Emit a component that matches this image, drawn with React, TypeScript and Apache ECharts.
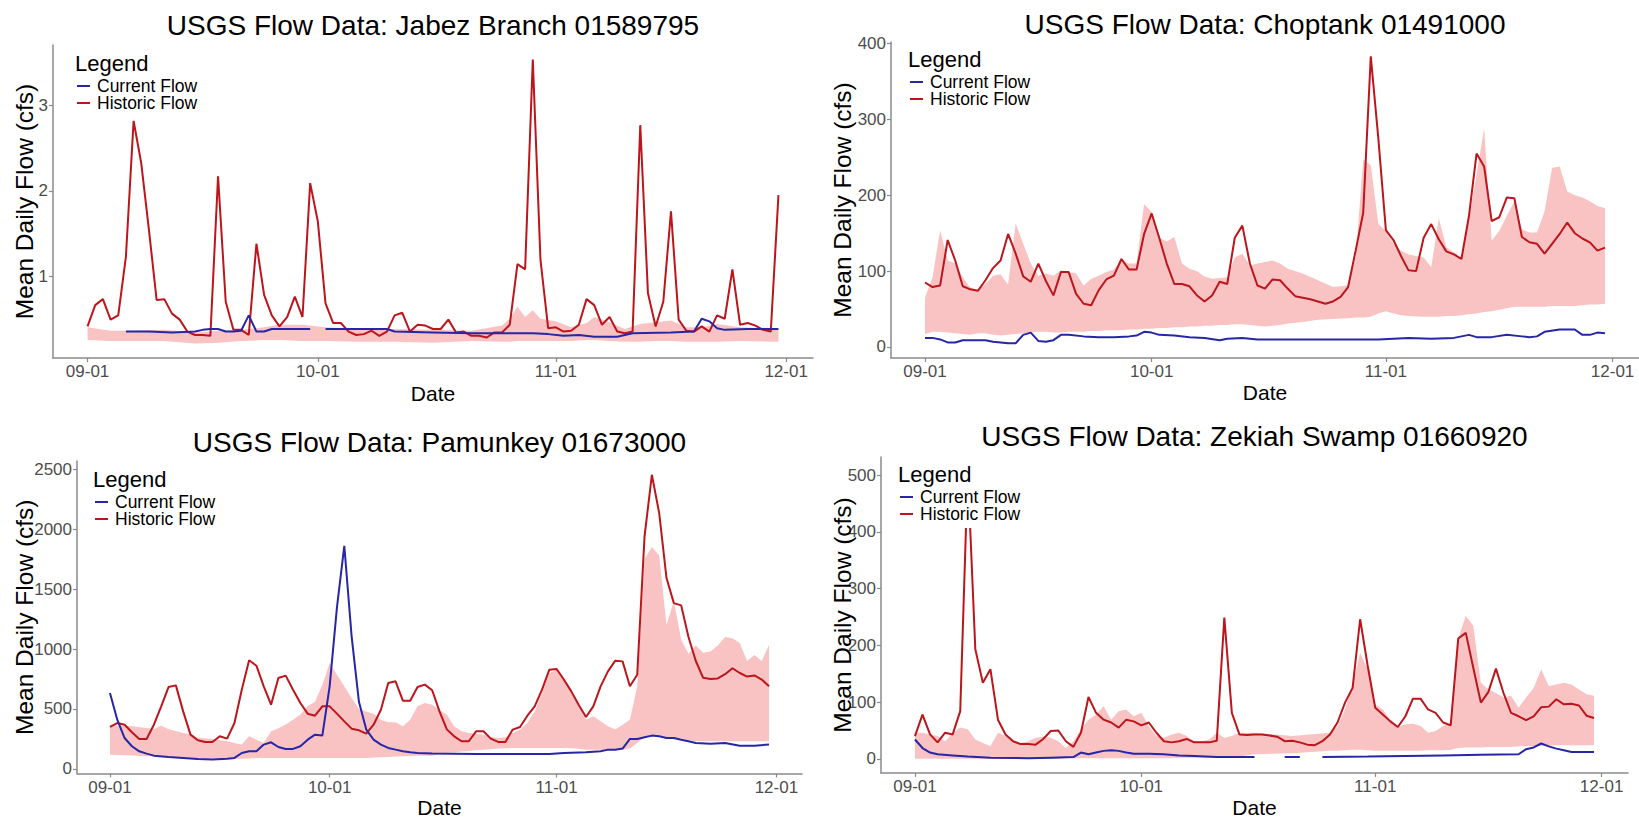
import React, { useEffect, useRef } from "react";
import * as echarts from "echarts";

// ---------- shared tick definitions ----------
const xTickDays = [0, 30, 61, 91];
const xTickLabels = ["09-01", "10-01", "11-01", "12-01"];

// ---------- titles ----------
const panelTitles = [
  "USGS Flow Data: Jabez Branch 01589795",
  "USGS Flow Data: Choptank 01491000",
  "USGS Flow Data: Pamunkey 01673000",
  "USGS Flow Data: Zekiah Swamp 01660920",
];
const yAxisTitle = "Mean Daily Flow (cfs)";
const xAxisTitle = "Date";
const legendTitle = "Legend";
const legendItems = ["Current Flow", "Historic Flow"];

// ---------- y ticks ----------
const jabezTicks = [1, 2, 3];
const choptankTicks = [0, 100, 200, 300, 400];
const pamunkeyTicks = [0, 500, 1000, 1500, 2000, 2500];
const zekiahTicks = [0, 100, 200, 300, 400, 500];

// ---------- Jabez Branch (day since 09-01, value) ----------
const jabezHistoric = [
  [0, 0.41], [1, 0.66], [2, 0.73], [3, 0.49], [4, 0.54], [5, 1.23], [6, 2.82], [7, 2.32], [8, 1.54], [9, 0.72],
  [10, 0.73], [11, 0.56], [12, 0.49], [13, 0.35], [14, 0.31], [15, 0.31], [16, 0.3], [17, 2.17], [18, 0.7], [19, 0.37],
  [20, 0.37], [21, 0.31], [22, 1.38], [23, 0.78], [24, 0.54], [25, 0.41], [26, 0.52], [27, 0.76], [28, 0.52], [29, 2.09],
  [30, 1.64], [31, 0.68], [32, 0.45], [33, 0.45], [34, 0.35], [35, 0.31], [36, 0.32], [37, 0.36], [38, 0.3], [39, 0.35],
  [40, 0.54], [41, 0.57], [42, 0.35], [43, 0.43], [44, 0.42], [45, 0.38], [46, 0.38], [47, 0.49], [48, 0.34], [49, 0.35],
  [50, 0.3], [51, 0.3], [52, 0.28], [53, 0.34], [54, 0.34], [55, 0.43], [56, 1.14], [57, 1.08], [58, 3.54], [59, 1.19],
  [60, 0.39], [61, 0.4], [62, 0.35], [63, 0.36], [64, 0.43], [65, 0.73], [66, 0.66], [67, 0.43], [68, 0.52], [69, 0.35],
  [70, 0.33], [71, 0.35], [72, 2.77], [73, 0.8], [74, 0.41], [75, 0.7], [76, 1.76], [77, 0.49], [78, 0.36], [79, 0.35],
  [80, 0.41], [81, 0.35], [82, 0.54], [83, 0.5], [84, 1.08], [85, 0.43], [86, 0.45], [87, 0.42], [88, 0.37], [89, 0.35],
  [90, 1.95],
];
const jabezCurrent = [
  [5, 0.35], [8, 0.35], [11, 0.34], [14, 0.35], [15, 0.37], [16, 0.38], [17, 0.38], [18, 0.35], [19, 0.35], [20, 0.36],
  [21, 0.54], [22, 0.35], [23, 0.35], [24, 0.38], [29, 0.38], [30, null], [31, 0.38], [35, 0.38], [39, 0.38], [40, 0.35],
  [45, 0.34], [50, 0.33], [55, 0.33], [58, 0.33], [60, 0.32], [62, 0.3], [64, 0.31], [66, 0.29], [69, 0.29], [71, 0.33],
  [76, 0.34], [79, 0.35], [80, 0.5], [81, 0.47], [82, 0.39], [83, 0.37], [86, 0.38], [90, 0.38],
];
const jabezBand = [
  [0, 0.25, 0.4], [3, 0.24, 0.36], [6, 0.24, 0.36], [10, 0.24, 0.37], [14, 0.21, 0.34], [17, 0.22, 0.36], [20, 0.24, 0.37],
  [23, 0.25, 0.4], [25, 0.25, 0.43], [28, 0.24, 0.43], [31, 0.24, 0.4], [35, 0.23, 0.38], [40, 0.23, 0.38], [45, 0.22, 0.37],
  [50, 0.24, 0.36], [54, 0.23, 0.42], [55, 0.23, 0.5], [56, 0.24, 0.64], [57, 0.24, 0.52], [58, 0.24, 0.6], [59, 0.24, 0.5],
  [61, 0.24, 0.47], [63, 0.24, 0.4], [65, 0.25, 0.45], [66, 0.25, 0.52], [68, 0.24, 0.46], [70, 0.23, 0.38], [72, 0.23, 0.44],
  [74, 0.24, 0.46], [76, 0.24, 0.48], [78, 0.23, 0.4], [80, 0.23, 0.4], [82, 0.23, 0.44], [85, 0.24, 0.4], [90, 0.23, 0.38],
];

// ---------- Choptank ----------
const choptankHistoric = [
  [0, 85], [1, 79], [2, 81], [3, 141], [4, 114], [5, 80], [6, 76], [7, 74], [8, 88], [9, 104],
  [10, 114], [11, 149], [12, 123], [13, 93], [14, 86], [15, 110], [16, 87], [17, 68], [18, 99], [19, 99],
  [20, 70], [21, 57], [22, 55], [23, 75], [24, 89], [25, 94], [26, 116], [27, 102], [28, 102], [29, 149],
  [30, 176], [31, 144], [32, 110], [33, 83], [34, 83], [35, 80], [36, 68], [37, 60], [38, 68], [39, 86],
  [40, 83], [41, 144], [42, 160], [43, 110], [44, 81], [45, 77], [46, 89], [47, 88], [48, 77], [49, 67],
  [50, 65], [51, 63], [52, 60], [53, 57], [54, 60], [55, 66], [56, 79], [57, 127], [58, 177], [59, 383],
  [60, 275], [61, 154], [62, 141], [63, 120], [64, 101], [65, 100], [66, 144], [67, 162], [68, 142], [69, 126],
  [70, 122], [71, 116], [72, 173], [73, 255], [74, 238], [75, 166], [76, 171], [77, 197], [78, 196], [79, 145],
  [80, 138], [81, 136], [82, 123], [83, 136], [84, 149], [85, 164], [86, 150], [87, 143], [88, 138], [89, 127],
  [90, 131],
];
const choptankCurrent = [
  [0, 12], [1, 12], [2, 10], [3, 6], [4, 6], [5, 9], [7, 9], [8, 9], [9, 7], [10, 6], [11, 5], [12, 5], [13, 16],
  [14, 19], [15, 8], [16, 7], [17, 9], [18, 16], [19, 16], [21, 14], [23, 13], [25, 13], [27, 14], [28, 15], [29, 20],
  [30, 19], [31, 16], [33, 15], [35, 13], [37, 12], [39, 9], [40, 11], [42, 12], [44, 10], [50, 10], [55, 10], [60, 10],
  [64, 12], [67, 11], [70, 12], [72, 16], [73, 13], [75, 13], [77, 16], [79, 14], [80, 13], [81, 14], [82, 20], [84, 23],
  [86, 23], [87, 16], [88, 16], [89, 19], [90, 18],
];
const choptankBand = [
  [0, 17, 65], [1, 20, 92], [2, 20, 154], [3, 19, 114], [4, 18, 110], [5, 17, 92], [6, 16, 78], [7, 18, 75], [8, 18, 83],
  [9, 16, 94], [10, 15, 96], [11, 16, 82], [12, 17, 163], [13, 18, 136], [14, 19, 110], [15, 20, 94], [16, 20, 97],
  [17, 19, 94], [18, 19, 101], [19, 20, 99], [20, 20, 97], [21, 20, 81], [22, 21, 90], [23, 21, 94], [24, 22, 99],
  [25, 22, 102], [26, 22, 114], [27, 23, 110], [28, 23, 110], [29, 24, 188], [30, 24, 178], [31, 25, 144], [32, 25, 139],
  [33, 26, 145], [34, 26, 110], [35, 27, 103], [36, 27, 100], [37, 28, 93], [38, 28, 90], [39, 29, 91], [40, 29, 92],
  [41, 30, 118], [42, 30, 123], [43, 29, 107], [44, 28, 110], [45, 27, 112], [46, 28, 114], [47, 29, 110], [48, 31, 103],
  [50, 33, 97], [52, 36, 88], [54, 37, 79], [56, 38, 81], [57, 39, 118], [58, 39, 247], [59, 40, 240], [60, 44, 162],
  [61, 47, 153], [62, 44, 136], [63, 42, 127], [64, 41, 122], [66, 40, 118], [67, 40, 105], [68, 40, 170], [69, 41, 131],
  [70, 41, 125], [71, 42, 118], [72, 43, 170], [73, 44, 227], [74, 46, 288], [75, 47, 140], [76, 49, 153], [77, 51, 173],
  [78, 53, 192], [79, 53, 155], [80, 53, 151], [81, 53, 151], [82, 53, 179], [83, 54, 236], [84, 54, 238], [85, 54, 205],
  [86, 54, 200], [87, 55, 197], [88, 56, 192], [89, 56, 186], [90, 57, 183],
];

// ---------- Pamunkey ----------
const pamunkeyHistoric = [
  [0, 350], [1, 383], [2, 369], [3, 306], [4, 250], [5, 250], [6, 369], [7, 522], [8, 683], [9, 697],
  [10, 480], [11, 286], [12, 239], [13, 225], [14, 225], [15, 272], [16, 253], [17, 383], [18, 661], [19, 906],
  [20, 861], [21, 689], [22, 536], [23, 758], [24, 778], [25, 661], [26, 550], [27, 461], [28, 444], [29, 522],
  [30, 522], [31, 461], [32, 397], [33, 336], [34, 322], [35, 294], [36, 369], [37, 494], [38, 717], [39, 731],
  [40, 569], [41, 569], [42, 683], [43, 703], [44, 656], [45, 480], [46, 330], [47, 272], [48, 231], [49, 231],
  [50, 314], [51, 314], [52, 253], [53, 225], [54, 225], [55, 328], [56, 350], [57, 444], [58, 522], [59, 661],
  [60, 828], [61, 833], [62, 744], [63, 647], [64, 536], [65, 433], [66, 522], [67, 689], [68, 814], [69, 903],
  [70, 897], [71, 689], [72, 786], [73, 1939], [74, 2453], [75, 2133], [76, 1592], [77, 1383], [78, 1364], [79, 1100],
  [80, 900], [81, 760], [82, 750], [83, 755], [84, 790], [85, 840], [86, 800], [87, 770], [88, 780], [89, 745],
  [90, 690],
];
const pamunkeyCurrent = [
  [0, 633], [1, 411], [2, 258], [3, 189], [4, 147], [5, 128], [6, 111], [8, 100], [10, 92], [12, 83], [14, 78],
  [16, 86], [17, 92], [18, 133], [19, 147], [20, 147], [21, 203], [22, 222], [23, 183], [24, 167], [25, 167], [26, 189],
  [27, 244], [28, 286], [29, 278], [30, 689], [31, 1350], [32, 1861], [33, 1106], [34, 560], [35, 328], [36, 244],
  [37, 203], [38, 175], [39, 161], [40, 147], [41, 139], [42, 133], [44, 128], [50, 125], [55, 125], [60, 125],
  [62, 133], [65, 139], [67, 147], [68, 161], [69, 161], [70, 170], [71, 250], [72, 250], [73, 264], [74, 278],
  [75, 272], [76, 258], [77, 258], [78, 244], [79, 231], [80, 217], [82, 211], [84, 217], [86, 194], [88, 194], [90, 203],
];
const pamunkeyBand = [
  [0, 119, 361], [2, 115, 361], [3, 113, 355], [5, 106, 342], [6, 104, 333], [7, 102, 361], [8, 100, 330], [10, 92, 300],
  [11, 90, 290], [12, 88, 260], [14, 85, 250], [16, 83, 230], [17, 83, 217], [18, 85, 203], [19, 88, 272], [20, 92, 244],
  [21, 92, 217], [22, 92, 314], [23, 92, 340], [24, 92, 370], [25, 92, 410], [26, 92, 453], [27, 92, 522], [28, 92, 560],
  [29, 92, 700], [30, 92, 883], [31, 92, 786], [32, 92, 689], [33, 92, 592], [34, 92, 500], [35, 92, 480], [36, 95, 461],
  [37, 98, 411], [38, 100, 389], [39, 103, 389], [40, 106, 356], [41, 108, 411], [42, 110, 522], [43, 111, 550],
  [44, 111, 536], [45, 125, 490], [46, 135, 453], [47, 140, 356], [48, 145, 314], [49, 150, 300], [50, 155, 294],
  [51, 160, 286], [52, 165, 267], [53, 170, 258], [54, 172, 264], [55, 175, 300], [56, 175, 328], [57, 175, 383],
  [58, 175, 480], [59, 175, 633], [60, 175, 800], [61, 175, 828], [62, 175, 744], [63, 172, 633], [64, 168, 522],
  [65, 161, 411], [66, 161, 439], [67, 161, 397], [68, 161, 356], [69, 161, 328], [70, 161, 369], [71, 170, 411],
  [72, 217, 689], [73, 264, 1750], [74, 272, 1850], [75, 272, 1780], [76, 265, 1200], [77, 258, 1400], [78, 250, 1080],
  [79, 240, 960], [80, 231, 1030], [81, 231, 970], [82, 231, 980], [83, 231, 1030], [84, 231, 1100], [85, 231, 1090],
  [86, 231, 1050], [87, 231, 900], [88, 231, 950], [89, 231, 900], [90, 231, 1036],
];

// ---------- Zekiah Swamp ----------
const zekiahHistoric = [
  [0, 40], [1, 78], [2, 43], [3, 29], [4, 46], [5, 43], [6, 84], [7, 507], [8, 193], [9, 134],
  [10, 158], [11, 69], [12, 43], [13, 31], [14, 26], [15, 26], [16, 25], [17, 35], [18, 49], [19, 50],
  [20, 31], [21, 21], [22, 46], [23, 109], [24, 81], [25, 69], [26, 64], [27, 55], [28, 69], [29, 66],
  [30, 59], [31, 64], [32, 46], [33, 31], [34, 29], [35, 31], [36, 35], [37, 29], [38, 29], [39, 29],
  [40, 32], [41, 249], [42, 81], [43, 43], [44, 42], [45, 43], [46, 43], [47, 41], [48, 39], [49, 31],
  [50, 32], [51, 29], [52, 25], [53, 24], [54, 31], [55, 43], [56, 64], [57, 99], [58, 125], [59, 246],
  [60, 164], [61, 90], [62, 78], [63, 66], [64, 56], [65, 75], [66, 106], [67, 106], [68, 87], [69, 81],
  [70, 64], [71, 59], [72, 212], [73, 222], [74, 160], [75, 99], [76, 118], [77, 159], [78, 116], [79, 81],
  [80, 75], [81, 68], [82, 75], [83, 91], [84, 92], [85, 105], [86, 96], [87, 97], [88, 94], [89, 76],
  [90, 72],
];
const zekiahCurrent = [
  [0, 34], [1, 19], [2, 11], [3, 8], [5, 6], [7, 4], [10, 2], [15, 1], [18, 2], [21, 3], [22, 11], [23, 8], [24, 11],
  [25, 14], [26, 15], [27, 14], [28, 11], [29, 9], [31, 9], [33, 8], [35, 6], [37, 5], [40, 3], [45, 3], [46, null],
  [49, 3], [51, 3], [52, null], [54, 3], [60, 4], [65, 5], [70, 6], [75, 7], [80, 8], [81, 17], [82, 20], [83, 27],
  [84, 22], [85, 18], [86, 15], [87, 12], [90, 12],
];
const zekiahBand = [
  [0, 0, 46], [1, 0, 46], [2, 0, 43], [3, 0, 40], [4, 0, 31], [5, 0, 45], [6, 0, 55], [7, 0, 52], [8, 0, 34], [9, 0, 28],
  [10, 0, 22], [11, 0, 46], [12, 0, 40], [13, 0, 31], [14, 0, 28], [15, 0, 31], [16, 0, 37], [17, 0, 39], [18, 0, 37],
  [19, 0, 31], [20, 1, 19], [21, 1, 31], [22, 1, 52], [23, 1, 69], [24, 1, 78], [25, 1, 93], [26, 1, 69], [27, 1, 84],
  [28, 1, 87], [29, 1, 75], [30, 1, 81], [31, 1, 58], [32, 1, 40], [33, 1, 37], [34, 1, 43], [35, 2, 46], [36, 2, 40],
  [37, 2, 31], [38, 2, 31], [39, 2, 34], [40, 2, 46], [41, 2, 37], [42, 3, 40], [43, 4, 46], [45, 8, 46], [50, 10, 40],
  [55, 14, 46], [56, 14, 58], [57, 15, 87], [58, 16, 131], [59, 16, 187], [60, 15, 158], [61, 14, 96], [62, 14, 87],
  [63, 14, 69], [64, 14, 56], [65, 14, 61], [66, 14, 62], [67, 14, 58], [68, 15, 46], [69, 15, 49], [70, 15, 58],
  [71, 16, 64], [72, 19, 211], [73, 20, 252], [74, 20, 234], [75, 20, 134], [76, 21, 122], [77, 21, 116], [78, 21, 108],
  [79, 21, 111], [80, 22, 90], [81, 22, 108], [82, 22, 125], [83, 23, 158], [84, 23, 128], [85, 24, 131], [86, 24, 134],
  [87, 24, 131], [88, 24, 122], [89, 24, 114], [90, 24, 111],
];

// ---------- styling / layout ----------
const FONT = '"Liberation Sans", Arial, Helvetica, sans-serif';
const HIST_COLOR = "#BC151C";
const CUR_COLOR = "#2626A6";
const BAND_COLOR = "#F9C3C3";
const AXIS_COLOR = "#8a8a8a";
const TICK_TEXT = "#4d4d4d";

const layouts = [
  { grid: { left: 53, top: 45, width: 760, height: 313 }, yMin: 0.04, yMax: 3.71, titleY: 25, dateY: 393, legX: 75, legY: 63 },
  { grid: { left: 891, top: 42, width: 748, height: 316 }, yMin: -14.5, yMax: 402, titleY: 24, dateY: 392, legX: 908, legY: 59 },
  { grid: { left: 77, top: 461, width: 725, height: 312.5 }, yMin: -38, yMax: 2568, titleY: 442, dateY: 807, legX: 93, legY: 479 },
  { grid: { left: 881, top: 457, width: 747, height: 316 }, yMin: -25, yMax: 532, titleY: 436, dateY: 807, legX: 898, legY: 474 },
];

const panelData = [
  { hist: jabezHistoric, cur: jabezCurrent, band: jabezBand, ticks: jabezTicks },
  { hist: choptankHistoric, cur: choptankCurrent, band: choptankBand, ticks: choptankTicks },
  { hist: pamunkeyHistoric, cur: pamunkeyCurrent, band: pamunkeyBand, ticks: pamunkeyTicks },
  { hist: zekiahHistoric, cur: zekiahCurrent, band: zekiahBand, ticks: zekiahTicks },
];

function txt(text: string, x: number, y: number, size: number, opts: any = {}) {
  return {
    type: "text",
    x,
    y,
    z: 110,
    rotation: opts.rotation || 0,
    style: {
      text,
      fill: opts.fill || "#000",
      fontSize: size,
      fontFamily: FONT,
      align: opts.align || "center",
      verticalAlign: "middle",
      textAlign: opts.align || "center",
      textVerticalAlign: "middle",
    },
  };
}

function buildOption() {
  const grid: any[] = [];
  const xAxis: any[] = [];
  const yAxis: any[] = [];
  const series: any[] = [];
  const graphic: any[] = [];

  layouts.forEach((L, i) => {
    const D = panelData[i];
    grid.push({ ...L.grid, containLabel: false });
    xAxis.push({
      type: "value",
      gridIndex: i,
      min: -4.5,
      max: 94.5,
      axisLine: { show: true, onZero: false, lineStyle: { color: AXIS_COLOR, width: 1.5 } },
      axisTick: { show: true, customValues: xTickDays, length: 4, lineStyle: { color: AXIS_COLOR, width: 1.2 } },
      axisLabel: {
        customValues: xTickDays,
        formatter: (v: number) => xTickLabels[xTickDays.indexOf(Math.round(v))] || "",
        color: TICK_TEXT,
        fontSize: 17,
        fontFamily: FONT,
        margin: 5,
      },
      splitLine: { show: false },
    });
    yAxis.push({
      type: "value",
      gridIndex: i,
      min: L.yMin,
      max: L.yMax,
      axisLine: { show: true, onZero: false, lineStyle: { color: AXIS_COLOR, width: 1.5 } },
      axisTick: { show: true, customValues: D.ticks, length: 4, lineStyle: { color: AXIS_COLOR, width: 1.2 } },
      axisLabel: {
        customValues: D.ticks,
        formatter: (v: number) => String(v),
        color: TICK_TEXT,
        fontSize: 17,
        fontFamily: FONT,
        margin: 5,
      },
      splitLine: { show: false },
    });

    const band = D.band;
    series.push({
      type: "custom",
      xAxisIndex: i,
      yAxisIndex: i,
      silent: true,
      z: 1,
      data: [[band[0][0], band[0][2]]],
      renderItem: (params: any, api: any) => {
        const pts: number[][] = [];
        for (let k = 0; k < band.length; k++) pts.push(api.coord([band[k][0], band[k][2]]));
        for (let k = band.length - 1; k >= 0; k--) pts.push(api.coord([band[k][0], band[k][1]]));
        return { type: "polygon", shape: { points: pts }, style: { fill: BAND_COLOR } };
      },
    });
    series.push({
      type: "line",
      name: "Historic Flow",
      xAxisIndex: i,
      yAxisIndex: i,
      data: D.hist,
      symbol: "none",
      z: 3,
      lineStyle: { color: HIST_COLOR, width: 2 },
      itemStyle: { color: HIST_COLOR },
    });
    series.push({
      type: "line",
      name: "Current Flow",
      xAxisIndex: i,
      yAxisIndex: i,
      data: D.cur,
      symbol: "none",
      connectNulls: false,
      z: 4,
      lineStyle: { color: CUR_COLOR, width: 2 },
      itemStyle: { color: CUR_COLOR },
    });

    const cx = L.grid.left + L.grid.width / 2;
    const cy = L.grid.top + L.grid.height / 2;
    graphic.push(txt(panelTitles[i], cx, L.titleY, 28));
    graphic.push(txt(xAxisTitle, cx, L.dateY, 21));
    graphic.push(txt(yAxisTitle, i % 2 === 0 ? 24 : 842, cy, 24.5, { rotation: Math.PI / 2 }));

    // legend (ggplot-style, white background)
    graphic.push({
      type: "rect",
      z: 100,
      shape: { x: L.legX - 8, y: L.legY - 16, width: 150, height: 70 },
      style: { fill: "#ffffff" },
    });
    graphic.push(txt(legendTitle, L.legX, L.legY, 22, { align: "left" }));
    const keyColors = [CUR_COLOR, HIST_COLOR];
    legendItems.forEach((name, k) => {
      const y = L.legY + 23 + k * 17;
      graphic.push({
        type: "line",
        z: 110,
        shape: { x1: L.legX + 2, y1: y, x2: L.legX + 15, y2: y },
        style: { stroke: keyColors[k], lineWidth: 2 },
      });
      graphic.push(txt(name, L.legX + 22, y, 17.5, { align: "left" }));
    });
  });

  return {
    animation: false,
    backgroundColor: "#ffffff",
    textStyle: { fontFamily: FONT },
    grid,
    xAxis,
    yAxis,
    series,
    graphic,
  };
}

export default function App() {
  const ref = useRef<HTMLDivElement>(null);
  useEffect(() => {
    if (!ref.current) return;
    const chart = echarts.init(ref.current, null, { renderer: "svg" });
    chart.setOption(buildOption() as any);
    return () => chart.dispose();
  }, []);
  return (
    <div
      ref={ref}
      style={{ position: "absolute", left: 0, top: 0, width: 1639, height: 818, background: "#fff" }}
    />
  );
}
